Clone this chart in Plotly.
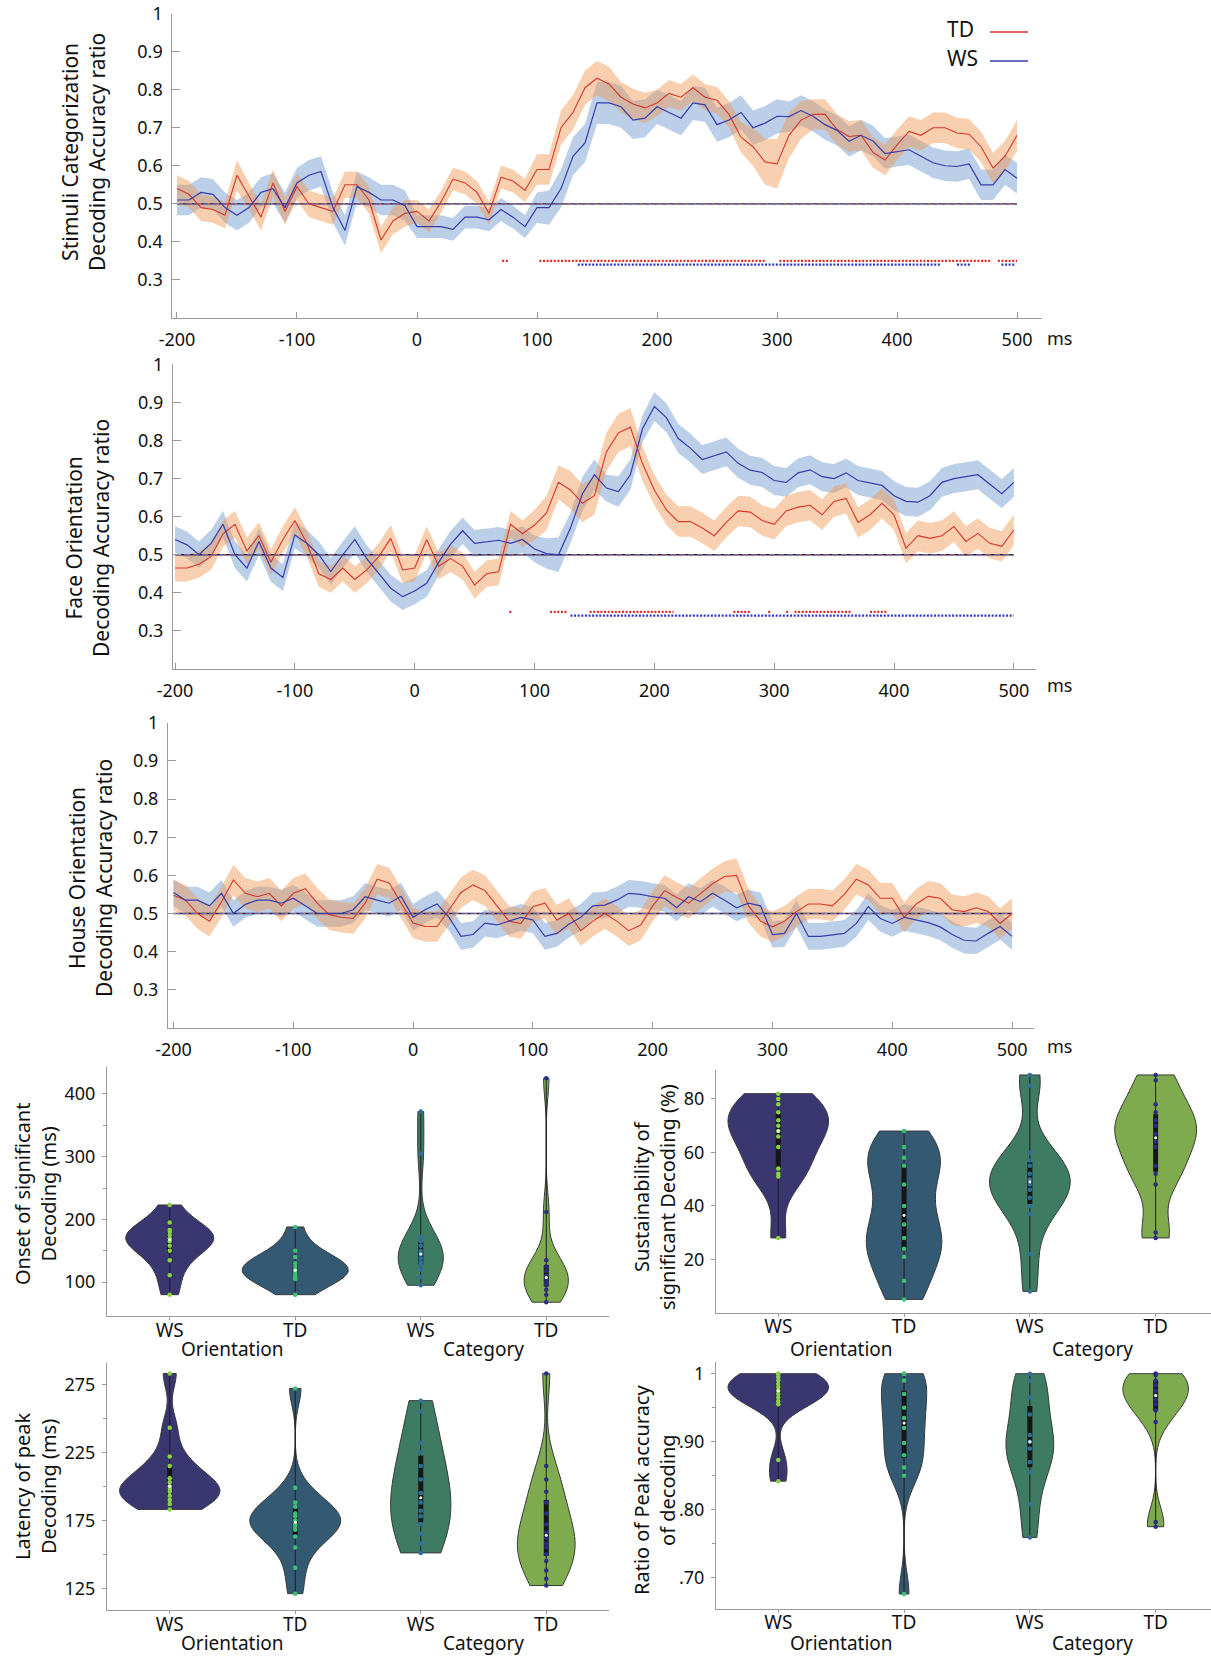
import numpy as np
import plotly.graph_objects as go

# ---------------- DATA ----------------
TIME_MS = list(range(-200, 510, 10))
CHANCE = 0.5

P1_TD = [0.54, 0.525, 0.49, 0.485, 0.47, 0.575, 0.52, 0.465, 0.555, 0.48,
         0.545, 0.50, 0.49, 0.48, 0.55, 0.55, 0.51, 0.405, 0.455, 0.475,
         0.48, 0.455, 0.505, 0.565, 0.555, 0.53, 0.475, 0.57, 0.56, 0.535,
         0.59, 0.59, 0.70, 0.74, 0.805, 0.83, 0.815, 0.78, 0.762, 0.752,
         0.765, 0.79, 0.78, 0.805, 0.78, 0.772, 0.735, 0.675, 0.65, 0.61,
         0.605, 0.68, 0.72, 0.735, 0.735, 0.695, 0.677, 0.68, 0.635, 0.615,
         0.655, 0.69, 0.68, 0.70, 0.70, 0.686, 0.683, 0.65, 0.594, 0.625,
         0.68]
P1_WS = [0.51, 0.51, 0.53, 0.525, 0.49, 0.47, 0.49, 0.53, 0.54, 0.49,
         0.555, 0.575, 0.585, 0.49, 0.43, 0.545, 0.53, 0.51, 0.51, 0.495,
         0.44, 0.44, 0.44, 0.433, 0.465, 0.465, 0.458, 0.485, 0.465, 0.44,
         0.49, 0.49, 0.54, 0.625, 0.66, 0.765, 0.765, 0.755, 0.72, 0.725,
         0.755, 0.74, 0.725, 0.765, 0.76, 0.708, 0.72, 0.74, 0.70, 0.712,
         0.73, 0.729, 0.745, 0.73, 0.708, 0.693, 0.664, 0.68, 0.665, 0.632,
         0.638, 0.642, 0.625, 0.608, 0.60, 0.598, 0.605, 0.55, 0.55, 0.59,
         0.567]
P1_TD_SEM = [0.035, 0.035, 0.035, 0.035, 0.035, 0.04, 0.035, 0.035, 0.035, 0.035,
             0.035, 0.035, 0.035, 0.035, 0.035, 0.035, 0.035, 0.035, 0.035, 0.035,
             0.03, 0.03, 0.03, 0.03, 0.03, 0.03, 0.03, 0.03, 0.03, 0.03,
             0.04, 0.04, 0.045, 0.045, 0.045, 0.045, 0.045, 0.04, 0.04, 0.04,
             0.035, 0.035, 0.035, 0.035, 0.035, 0.035, 0.035, 0.04, 0.05, 0.06,
             0.065, 0.06, 0.05, 0.04, 0.04, 0.04, 0.04, 0.04, 0.04, 0.04,
             0.04, 0.04, 0.04, 0.04, 0.04, 0.04, 0.04, 0.04, 0.04, 0.04,
             0.04]
P1_WS_SEM = [0.04, 0.04, 0.04, 0.04, 0.04, 0.04, 0.04, 0.04, 0.04, 0.04,
             0.04, 0.04, 0.04, 0.04, 0.04, 0.04, 0.04, 0.04, 0.04, 0.04,
             0.03, 0.03, 0.03, 0.03, 0.03, 0.03, 0.03, 0.03, 0.03, 0.03,
             0.04, 0.045, 0.05, 0.05, 0.05, 0.055, 0.055, 0.055, 0.05, 0.05,
             0.045, 0.045, 0.045, 0.045, 0.045, 0.045, 0.045, 0.045, 0.045, 0.045,
             0.045, 0.04, 0.04, 0.04, 0.04, 0.04, 0.04, 0.04, 0.04, 0.04,
             0.04, 0.04, 0.04, 0.04, 0.04, 0.04, 0.04, 0.04, 0.04, 0.04,
             0.04]

P2_TD = [0.465, 0.465, 0.475, 0.495, 0.555, 0.58, 0.51, 0.55, 0.48, 0.54,
         0.59, 0.53, 0.45, 0.435, 0.465, 0.435, 0.46, 0.495, 0.543, 0.46,
         0.465, 0.54, 0.47, 0.49, 0.47, 0.42, 0.45, 0.455, 0.58, 0.555,
         0.578, 0.61, 0.69, 0.67, 0.635, 0.655, 0.77, 0.82, 0.835, 0.74,
         0.67, 0.618, 0.587, 0.587, 0.57, 0.55, 0.585, 0.615, 0.612, 0.59,
         0.58, 0.615, 0.625, 0.63, 0.605, 0.64, 0.648, 0.585, 0.605, 0.635,
         0.605, 0.517, 0.55, 0.543, 0.55, 0.574, 0.535, 0.556, 0.53, 0.522,
         0.565]
P2_WS = [0.54, 0.526, 0.50, 0.53, 0.58, 0.50, 0.465, 0.535, 0.465, 0.44,
         0.552, 0.53, 0.50, 0.456, 0.50, 0.54, 0.49, 0.45, 0.412, 0.39,
         0.405, 0.425, 0.48, 0.528, 0.563, 0.53, 0.535, 0.538, 0.53, 0.54,
         0.515, 0.503, 0.50, 0.57, 0.66, 0.71, 0.675, 0.666, 0.71, 0.83,
         0.889, 0.86, 0.805, 0.78, 0.75, 0.76, 0.77, 0.74, 0.722, 0.716,
         0.695, 0.69, 0.715, 0.723, 0.705, 0.70, 0.715, 0.695, 0.688, 0.682,
         0.655, 0.64, 0.638, 0.655, 0.69, 0.70, 0.705, 0.71, 0.685, 0.66,
         0.69]
P2_TD_SEM = [0.035, 0.035, 0.035, 0.035, 0.035, 0.035, 0.035, 0.035, 0.035, 0.035,
             0.035, 0.035, 0.035, 0.035, 0.035, 0.035, 0.035, 0.035, 0.035, 0.035,
             0.035, 0.035, 0.035, 0.035, 0.035, 0.035, 0.035, 0.035, 0.035, 0.035,
             0.04, 0.045, 0.045, 0.05, 0.05, 0.05, 0.05, 0.05, 0.05, 0.045,
             0.04, 0.04, 0.04, 0.04, 0.04, 0.04, 0.04, 0.04, 0.04, 0.04,
             0.04, 0.04, 0.04, 0.04, 0.04, 0.04, 0.04, 0.04, 0.04, 0.04,
             0.04, 0.04, 0.04, 0.04, 0.04, 0.04, 0.04, 0.04, 0.04, 0.04,
             0.04]
P2_WS_SEM = [0.035, 0.035, 0.035, 0.035, 0.035, 0.035, 0.035, 0.035, 0.035, 0.035,
             0.035, 0.035, 0.035, 0.035, 0.035, 0.035, 0.035, 0.035, 0.035, 0.035,
             0.035, 0.035, 0.035, 0.035, 0.035, 0.035, 0.035, 0.035, 0.035, 0.035,
             0.035, 0.04, 0.045, 0.04, 0.045, 0.04, 0.035, 0.04, 0.04, 0.035,
             0.038, 0.038, 0.038, 0.038, 0.038, 0.038, 0.038, 0.038, 0.038, 0.038,
             0.038, 0.038, 0.038, 0.038, 0.038, 0.038, 0.038, 0.038, 0.038, 0.038,
             0.038, 0.038, 0.038, 0.038, 0.038, 0.038, 0.038, 0.038, 0.038, 0.038,
             0.038]

P3_TD = [0.548, 0.535, 0.50, 0.48, 0.53, 0.588, 0.553, 0.544, 0.553, 0.52,
         0.553, 0.565, 0.527, 0.497, 0.49, 0.487, 0.527, 0.59, 0.58, 0.527,
         0.475, 0.466, 0.466, 0.51, 0.555, 0.575, 0.56, 0.52, 0.48, 0.474,
         0.518, 0.527, 0.483, 0.50, 0.455, 0.48, 0.50, 0.48, 0.455, 0.47,
         0.52, 0.56, 0.542, 0.527, 0.553, 0.578, 0.597, 0.60, 0.52, 0.48,
         0.465, 0.48, 0.505, 0.525, 0.525, 0.52, 0.55, 0.59, 0.575, 0.54,
         0.54, 0.49, 0.525, 0.545, 0.54, 0.51, 0.505, 0.515, 0.505, 0.474,
         0.50]
P3_WS = [0.555, 0.535, 0.535, 0.52, 0.553, 0.50, 0.524, 0.535, 0.535, 0.527,
         0.54, 0.52, 0.50, 0.50, 0.50, 0.51, 0.544, 0.535, 0.527, 0.545,
         0.49, 0.51, 0.525, 0.49, 0.44, 0.445, 0.475, 0.47, 0.48, 0.49,
         0.483, 0.44, 0.448, 0.472, 0.49, 0.52, 0.522, 0.535, 0.553, 0.55,
         0.544, 0.54, 0.515, 0.544, 0.531, 0.553, 0.535, 0.515, 0.527, 0.52,
         0.445, 0.448, 0.50, 0.44, 0.44, 0.444, 0.448, 0.474, 0.518, 0.487,
         0.474, 0.49, 0.483, 0.476, 0.465, 0.445, 0.43, 0.428, 0.448, 0.466,
         0.44]
P3_TD_SEM = [0.04, 0.04, 0.04, 0.04, 0.04, 0.04, 0.04, 0.04, 0.04, 0.04,
             0.04, 0.04, 0.04, 0.04, 0.04, 0.04, 0.04, 0.04, 0.04, 0.04,
             0.04, 0.04, 0.04, 0.04, 0.04, 0.04, 0.04, 0.04, 0.04, 0.04,
             0.04, 0.04, 0.04, 0.04, 0.04, 0.04, 0.04, 0.04, 0.04, 0.04,
             0.04, 0.04, 0.04, 0.04, 0.04, 0.04, 0.04, 0.045, 0.045, 0.04,
             0.04, 0.04, 0.04, 0.04, 0.04, 0.04, 0.04, 0.04, 0.04, 0.04,
             0.04, 0.04, 0.04, 0.04, 0.04, 0.04, 0.04, 0.04, 0.04, 0.04,
             0.04]
P3_WS_SEM = [0.035, 0.035, 0.035, 0.035, 0.035, 0.035, 0.035, 0.035, 0.035, 0.035,
             0.035, 0.035, 0.035, 0.035, 0.035, 0.035, 0.035, 0.035, 0.035, 0.035,
             0.035, 0.035, 0.035, 0.035, 0.035, 0.035, 0.035, 0.035, 0.035, 0.035,
             0.035, 0.035, 0.035, 0.035, 0.035, 0.035, 0.035, 0.035, 0.035, 0.035,
             0.035, 0.035, 0.035, 0.035, 0.035, 0.035, 0.035, 0.035, 0.035, 0.035,
             0.035, 0.035, 0.035, 0.035, 0.035, 0.035, 0.035, 0.035, 0.035, 0.035,
             0.035, 0.035, 0.035, 0.035, 0.035, 0.035, 0.035, 0.035, 0.035, 0.035,
             0.035]

# significance intervals (ms)
P1_SIG_TD = [(71, 77), (102, 290), (302, 478), (484, 500)]
P1_SIG_WS = [(134, 437), (450, 461), (487, 498)]
P2_SIG_TD = [(79, 81), (113, 128), (146, 216), (266, 280), (295, 297),
             (310, 312), (317, 364), (380, 394)]
P2_SIG_WS = [(130, 500)]
SIG_LEVEL_TD = 0.35
SIG_LEVEL_WS = 0.34

PANEL_TITLES = ["Stimuli Categorization<br>Decoding Accuracy ratio",
                "Face Orientation<br>Decoding Accuracy ratio",
                "House Orientation<br>Decoding Accuracy ratio"]
TIME_TICKS = [-200, -100, 0, 100, 200, 300, 400, 500]
TIME_TICKTEXT = ["-200", "-100", "0", "100", "200", "300", "400", "500"]
ACC_TICKS = [0.3, 0.4, 0.5, 0.6, 0.7, 0.8, 0.9, 1.0]
ACC_TICKTEXT = ["0.3", "0.4", "0.5", "0.6", "0.7", "0.8", "0.9", "1"]

# violin data: order WS-Orientation, TD-Orientation, WS-Category, TD-Category
VIOLIN_LABELS = ["WS", "TD", "WS", "TD"]
GROUP_LABELS = ["Orientation", "Category"]
ONSET = [[80, 111, 135, 150, 158, 165, 170, 175, 180, 183, 195, 223],
         [80, 105, 108, 112, 115, 118, 120, 125, 130, 140, 150, 188],
         [95, 108, 120, 128, 132, 138, 145, 150, 158, 165, 172, 305, 372],
         [68, 80, 88, 95, 100, 105, 110, 118, 125, 135, 212, 425]]
SUSTAIN = [[28, 51, 52, 54, 62, 66, 68, 70, 72, 75, 78, 80, 82],
           [5, 12, 21, 24, 28, 33, 40, 48, 55, 58, 62, 68],
           [8, 22, 37, 40, 43, 46, 48, 50, 52, 55, 57, 60, 85, 89],
           [28, 30, 48, 52, 55, 62, 64, 67, 70, 72, 75, 78, 87, 89]]
LATENCY = [[183, 187, 190, 193, 196, 198, 200, 203, 206, 215, 222, 243, 283],
           [121, 140, 155, 163, 168, 170, 172, 175, 178, 180, 185, 188, 199, 272],
           [151, 158, 165, 172, 178, 182, 188, 195, 205, 215, 225, 232, 255, 263],
           [127, 132, 138, 145, 150, 155, 158, 162, 166, 172, 180, 188, 196, 205, 215, 283]]
PEAK = [[0.842, 0.873, 0.955, 0.96, 0.965, 0.97, 0.975, 0.98, 0.985, 0.99, 0.995, 1.0, 1.0],
        [0.676, 0.85, 0.862, 0.88, 0.898, 0.92, 0.935, 0.95, 0.97, 0.99, 1.0, 1.0],
        [0.759, 0.808, 0.855, 0.87, 0.89, 0.90, 0.91, 0.94, 0.965, 0.99, 1.0],
        [0.775, 0.782, 0.929, 0.946, 0.955, 0.962, 0.968, 0.975, 0.983, 0.99, 0.998, 1.0, 1.0]]

# ---------------- STYLE / LAYOUT ----------------
W, H = 1211, 1658
FONT = "Noto Sans"
TXT = "#111111"
AX = "#9a9a9a"
RED = "#d8352b"
BLUE = "#343cae"
RED_BAND = "rgba(240,150,80,0.45)"
BLUE_BAND = "rgba(105,148,203,0.45)"
VCOL = ["#3a3670", "#335a72", "#3e7b63", "#7eab4e"]
PCOL = ["#8bd146", "#3fbf72", "#2f6fa0", "#2c2c86"]


def fx(p):
    return p / W


def fy(p):
    return 1 - p / H


fig = go.Figure()
layout = dict(width=W, height=H, margin=dict(l=0, r=0, t=0, b=0, pad=0, autoexpand=False),
              paper_bgcolor="white", plot_bgcolor="rgba(0,0,0,0)",
              showlegend=False, font=dict(family=FONT, color=TXT),
              violinmode="overlay")
annotations = []
shapes = []

# time panels: (x px domain, y px domain, x range)
TIME_PANELS = [
    ((172.3, 1042), (13.5, 318), (-203.9, 520.8)),
    ((173, 1036), (364.3, 669), (-201.7, 518.5)),
    ((168, 1034), (722.7, 1028), (-204.6, 518.3)),
]
TITLE_POS = [(84, 152), (87, 538), (90, 878)]
MS_Y = [338, 685, 1046]
series = [(P1_TD, P1_TD_SEM, P1_WS, P1_WS_SEM, P1_SIG_TD, P1_SIG_WS),
          (P2_TD, P2_TD_SEM, P2_WS, P2_WS_SEM, P2_SIG_TD, P2_SIG_WS),
          (P3_TD, P3_TD_SEM, P3_WS, P3_WS_SEM, [], [])]

t = np.array(TIME_MS, dtype=float)


def band(mean, sem, color, xa, ya):
    m = np.array(mean)
    s = np.array(sem)
    fig.add_trace(go.Scatter(x=np.concatenate([t, t[::-1]]),
                             y=np.concatenate([m + s, (m - s)[::-1]]),
                             fill="toself", fillcolor=color, line=dict(width=0),
                             mode="lines", hoverinfo="skip", xaxis=xa, yaxis=ya))


def sig(intervals, level, color, xa, ya):
    xs, ys = [], []
    for a, b in intervals:
        xs += [a, b, None]
        ys += [level, level, None]
    if xs:
        fig.add_trace(go.Scatter(x=xs, y=ys, mode="lines",
                                 line=dict(color=color, width=2.2, dash="2px,1.6px"),
                                 hoverinfo="skip", xaxis=xa, yaxis=ya))


for i, ((xd, yd, xr), (td, tds, ws, wss, sgt, sgw)) in enumerate(zip(TIME_PANELS, series), start=1):
    xa, ya = ("x" if i == 1 else f"x{i}"), ("y" if i == 1 else f"y{i}")
    layout["xaxis" if i == 1 else f"xaxis{i}"] = dict(
        domain=[fx(xd[0]), fx(xd[1])], range=list(xr), anchor=ya, automargin=False,
        showline=True, linecolor=AX, linewidth=1, ticks="inside", ticklen=6,
        tickcolor=AX, tickvals=TIME_TICKS, ticktext=TIME_TICKTEXT,
        tickfont=dict(size=18, color=TXT),
        showgrid=False, zeroline=False, ticklabelstandoff=5, fixedrange=True)
    layout["yaxis" if i == 1 else f"yaxis{i}"] = dict(
        domain=[fy(yd[1]), fy(yd[0])], range=[0.2, 1.0], anchor=xa, automargin=False,
        showline=True, linecolor=AX, linewidth=1, ticks="inside", ticklen=8,
        tickcolor=AX, tickvals=ACC_TICKS, ticktext=ACC_TICKTEXT,
        tickfont=dict(size=18, color=TXT), showgrid=False, zeroline=False,
        ticklabelstandoff=5, fixedrange=True)
    band(ws, wss, BLUE_BAND, xa, ya)
    band(td, tds, RED_BAND, xa, ya)
    fig.add_trace(go.Scatter(x=[TIME_MS[0], TIME_MS[-1]], y=[CHANCE, CHANCE], mode="lines",
                             line=dict(color="#1d1d48", width=1.3), xaxis=xa, yaxis=ya))
    fig.add_trace(go.Scatter(x=[TIME_MS[0], TIME_MS[-1]], y=[CHANCE, CHANCE], mode="lines",
                             line=dict(color="#e07050", width=1.2, dash="6px,3px"), xaxis=xa, yaxis=ya))
    fig.add_trace(go.Scatter(x=[TIME_MS[0], TIME_MS[-1]], y=[CHANCE, CHANCE], mode="lines",
                             line=dict(color="#5060c8", width=1.2, dash="4px,5px"), xaxis=xa, yaxis=ya))
    fig.add_trace(go.Scatter(x=TIME_MS, y=td, mode="lines", line=dict(color=RED, width=1.1),
                             xaxis=xa, yaxis=ya))
    fig.add_trace(go.Scatter(x=TIME_MS, y=ws, mode="lines", line=dict(color=BLUE, width=1.2),
                             xaxis=xa, yaxis=ya))
    sig(sgt, SIG_LEVEL_TD, "#e02a22", xa, ya)
    sig(sgw, SIG_LEVEL_WS, "#2a36c4", xa, ya)
    tx, ty = TITLE_POS[i - 1]
    annotations.append(dict(text=PANEL_TITLES[i - 1], x=fx(tx), y=fy(ty), xref="paper", yref="paper",
                            textangle=-90, showarrow=False, font=dict(size=21, color=TXT),
                            xanchor="center", yanchor="middle"))
    annotations.append(dict(text="ms", x=fx(1045), y=fy(MS_Y[i - 1]), xref="paper", yref="paper",
                            showarrow=False, font=dict(size=18, color=TXT), xanchor="left",
                            yanchor="middle"))

# legend (text then line)
for lab, col, ytxt in [("TD", RED, 29), ("WS", BLUE, 58)]:
    annotations.append(dict(text=lab, x=fx(945), y=fy(ytxt), xref="paper", yref="paper",
                            showarrow=False, font=dict(size=21, color=TXT), xanchor="left",
                            yanchor="middle"))
    shapes.append(dict(type="line", xref="paper", yref="paper", x0=fx(990), x1=fx(1028),
                       y0=fy(ytxt + 3), y1=fy(ytxt + 3), line=dict(color=col, width=1.3)))

# ---------------- VIOLINS ----------------
VPANELS = [
    (ONSET, (107, 609), (1067, 1316), (0.5, 4.5), (46, 443), [100, 200, 300, 400], None,
     [150, 250, 350], [0.70, 0.84, 0.36, 0.35], [21, 22, 34, 30],
     "Onset of significant<br>Decoding (ms)", (35, 1194), 1349),
    (SUSTAIN, (716, 1211), (1070, 1312.5), (0.505, 4.44), (0.1, 90.85), [20, 40, 60, 80], None,
     [], [0.80, 0.60, 0.64, 0.65], [8, 9, 9, 8],
     "Sustainability of<br>significant Decoding (%)", (654, 1197), 1349),
    (LATENCY, (107, 609), (1363, 1610), (0.5, 4.5), (109, 290.7), [125, 175, 225, 275], None,
     [150, 200, 250], [0.80, 0.72, 0.48, 0.46], [11, 12, 28, 18],
     "Latency of peak<br>Decoding (ms)", (35, 1486), 1643),
    (PEAK, (716, 1211), (1362, 1608.5), (0.505, 4.44), (0.6547, 1.0172), [0.7, 0.8, 0.9, 1.0],
     [".70", ".80", ".90", "1"], [0.75, 0.85, 0.95], [0.80, 0.36, 0.38, 0.52],
     [0.02, 0.03, 0.035, 0.025],
     "Ratio of Peak accuracy<br>of decoding", (654, 1490), 1643),
]

for k, (dsets, xd, yd, xr, yr, tv, tt, minor, widths, bws, title, tpos, gy) in enumerate(VPANELS, start=4):
    xa, ya = f"x{k}", f"y{k}"
    yaxis = dict(domain=[fy(yd[1]), fy(yd[0])], range=list(yr), anchor=xa, showline=True,
                 linecolor=AX, linewidth=1, ticks="outside", ticklen=4, tickcolor=AX,
                 tickvals=tv, tickfont=dict(size=18, color=TXT), showgrid=False,
                 zeroline=False, fixedrange=True, ticklabelstandoff=3, automargin=False)
    if tt:
        yaxis["ticktext"] = tt
    if minor:
        yaxis["minor"] = dict(tickvals=minor, ticks="outside", ticklen=3, tickcolor=AX)
    layout[f"yaxis{k}"] = yaxis
    layout[f"xaxis{k}"] = dict(domain=[fx(xd[0]), fx(xd[1])], range=list(xr), anchor=ya,
                               showline=True, linecolor=AX, linewidth=1, ticks="outside",
                               ticklen=3, tickcolor=AX, tickvals=[1, 2, 3, 4],
                               ticktext=VIOLIN_LABELS, tickfont=dict(size=19, color=TXT),
                               showgrid=False, zeroline=False, fixedrange=True,
                               ticklabelstandoff=-6, automargin=False)
    for j, d in enumerate(dsets):
        pos = j + 1
        arr = np.array(d, dtype=float)
        fig.add_trace(go.Violin(y=arr, x0=pos, width=widths[j], bandwidth=bws[j],
                                spanmode="hard", scalemode="width", fillcolor=VCOL[j],
                                line=dict(color="#3a3a3a", width=1), opacity=1,
                                points=False, box_visible=False, meanline_visible=False,
                                hoverinfo="skip", xaxis=xa, yaxis=ya, orientation="v"))
        q1, med, q3 = np.percentile(arr, [25, 50, 75])
        fig.add_trace(go.Scatter(x=[pos, pos], y=[arr.min(), arr.max()], mode="lines",
                                 line=dict(color="#1e1e1e", width=1), xaxis=xa, yaxis=ya))
        fig.add_trace(go.Scatter(x=[pos, pos], y=[q1, q3], mode="lines",
                                 line=dict(color="#151515", width=5), xaxis=xa, yaxis=ya))
        fig.add_trace(go.Scatter(x=[pos] * len(arr), y=arr, mode="markers",
                                 marker=dict(color=PCOL[j], size=4.5), xaxis=xa, yaxis=ya))
        fig.add_trace(go.Scatter(x=[pos], y=[med], mode="markers",
                                 marker=dict(color="white", size=3), xaxis=xa, yaxis=ya))
    for gpos, glab in zip([1.5, 3.5], GROUP_LABELS):
        annotations.append(dict(text=glab, x=gpos, y=fy(gy), xref=xa, yref="paper",
                                showarrow=False, font=dict(size=19, color=TXT),
                                xanchor="center", yanchor="middle", borderpad=0))
    annotations.append(dict(text=title, x=fx(tpos[0]), y=fy(tpos[1]), xref="paper", yref="paper",
                            textangle=-90, showarrow=False, font=dict(size=20, color=TXT),
                            xanchor="center", yanchor="middle"))

layout["annotations"] = annotations
layout["shapes"] = shapes
fig.update_layout(**layout)
fig.write_html("out.html", config={"displayModeBar": False},
               post_script="document.body.style.margin='0';document.body.style.padding='0';")
